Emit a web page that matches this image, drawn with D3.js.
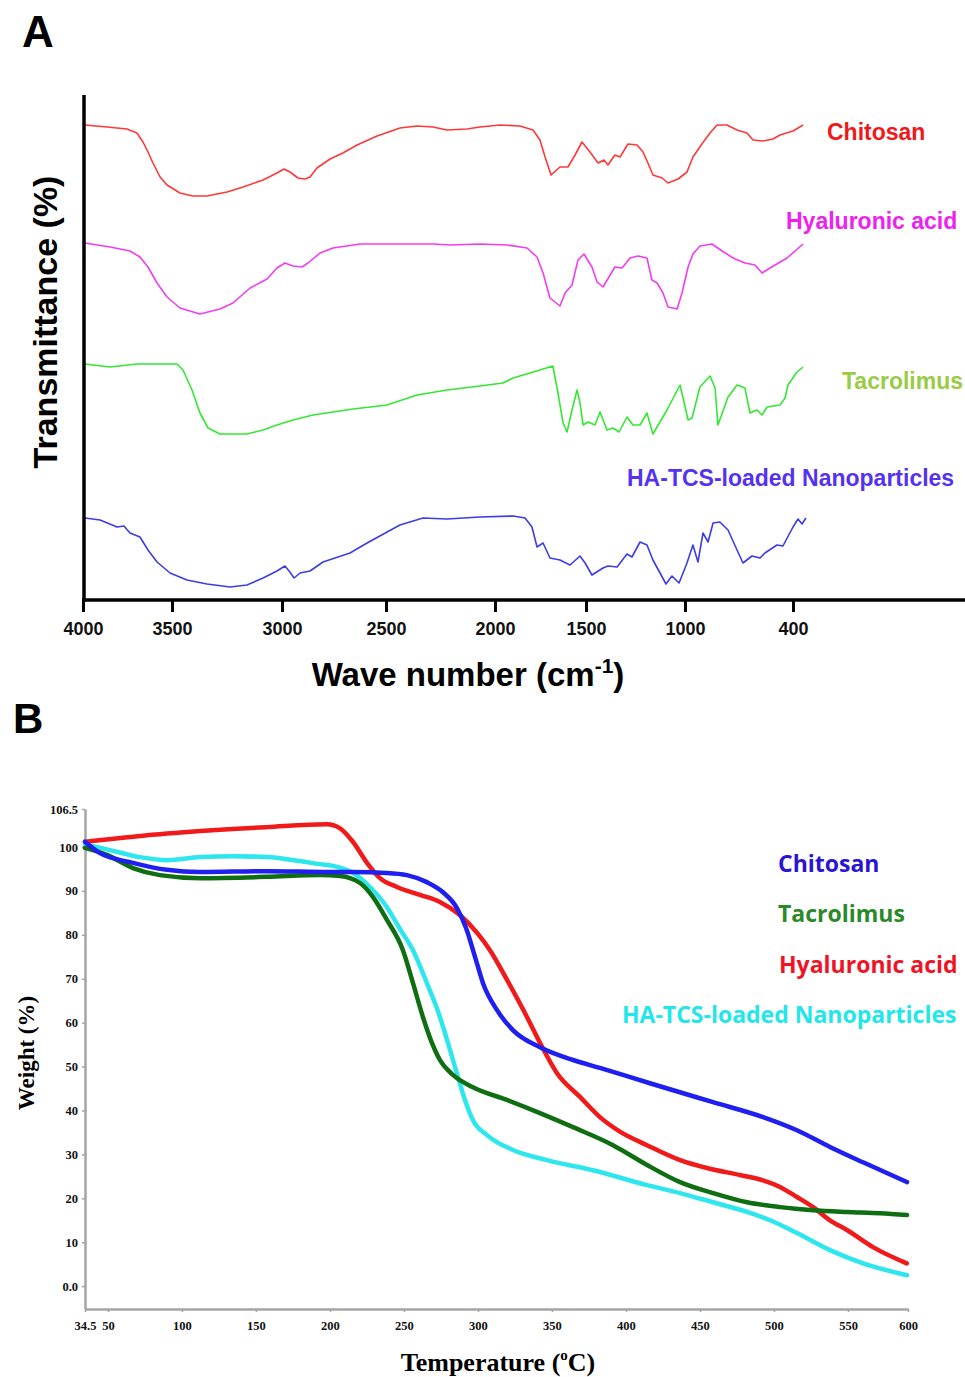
<!DOCTYPE html>
<html lang="en">
<head>
<meta charset="utf-8">
<script src="https://d3js.org/d3.v7.min.js"></script>
<style>
  body { margin: 0; background: #fff; }
  svg { display: block; }
  .sans { font-family: "Liberation Sans", Arial, sans-serif; font-weight: bold; }
  .serif { font-family: "Liberation Serif", "Times New Roman", serif; font-weight: bold; }
  .legend { font-family: "Open Sans", "Noto Sans", sans-serif; font-weight: bold; }
</style>
</head>
<body>
<script>
// ---------- Panel A: FTIR spectra (wave number cm-1, transmittance a.u.) ----------
const waveTicks = [4000, 3500, 3000, 2500, 2000, 1500, 1000, 400];
const ftirNames = ["Chitosan", "Hyaluronic acid", "Tacrolimus", "HA-TCS-loaded Nanoparticles"];

const ftirChitosan = [[3990,95.0],[3865,94.6],[3753,94.2],[3697,93.4],[3663,91.6],[3635,89.6],[3607,87.4],[3567,84.6],[3528,83.0],[3464,81.4],[3405,80.8],[3341,80.8],[3250,81.6],[3177,82.6],[3086,84.0],[3023,85.4],[2990,86.2],[2962,85.6],[2923,84.4],[2889,84.2],[2865,84.6],[2832,86.4],[2769,88.2],[2707,89.4],[2639,91.0],[2543,92.8],[2436,94.4],[2358,94.8],[2284,94.6],[2220,94.0],[2129,94.2],[2069,94.6],[1973,95.0],[1863,94.8],[1791,94.0],[1753,92.0],[1725,88.6],[1692,85.0],[1643,86.6],[1599,86.6],[1560,89.0],[1522,91.6],[1480,89.6],[1439,87.4],[1409,88.0],[1389,87.0],[1354,89.0],[1328,88.6],[1288,91.2],[1242,91.0],[1212,89.6],[1187,87.4],[1162,85.0],[1116,84.4],[1086,83.4],[1035,84.2],[989,85.6],[956,88.6],[906,91.2],[861,93.4],[822,95.0],[767,95.0],[711,94.0],[656,93.4],[622,92.0],[567,91.8],[511,92.2],[472,93.0],[400,93.8],[344,95.0]];

const ftirHyaluronic = [[3990,71.4],[3848,70.6],[3736,69.8],[3680,68.6],[3635,66.6],[3584,63.4],[3528,60.6],[3464,58.4],[3373,57.2],[3282,58.2],[3223,59.4],[3145,62.4],[3068,64.2],[3023,66.4],[2986,67.4],[2947,66.8],[2904,66.6],[2875,67.4],[2817,69.4],[2755,70.4],[2625,71.2],[2436,71.2],[2284,71.2],[2206,71.0],[2069,71.2],[1934,71.0],[1824,70.4],[1769,68.6],[1736,65.4],[1698,60.4],[1643,58.8],[1615,61.4],[1577,63.0],[1544,68.0],[1511,69.2],[1470,66.6],[1444,63.6],[1414,62.6],[1369,65.6],[1354,66.6],[1318,66.4],[1278,68.4],[1237,68.8],[1192,68.4],[1167,64.0],[1141,63.4],[1111,61.4],[1086,58.6],[1040,58.2],[1015,61.4],[983,66.6],[956,69.2],[917,70.8],[850,71.2],[794,69.8],[733,68.4],[667,67.4],[611,67.0],[572,65.4],[528,66.4],[433,68.4],[344,71.2]];

const ftirTacrolimus = [[3990,47.2],[3848,46.6],[3697,47.2],[3477,47.2],[3450,46.0],[3409,42.0],[3373,37.4],[3336,34.4],[3282,33.2],[3159,33.2],[3086,34.0],[3023,35.0],[2947,36.0],[2851,37.0],[2755,37.6],[2658,38.2],[2495,39.0],[2358,41.0],[2220,42.0],[2069,42.8],[1956,43.4],[1901,44.4],[1808,45.4],[1682,46.8],[1654,41.4],[1626,35.4],[1604,33.6],[1577,38.0],[1549,42.0],[1533,39.4],[1516,35.0],[1490,35.6],[1455,35.0],[1429,37.6],[1394,34.0],[1364,34.4],[1333,33.6],[1293,36.6],[1263,35.0],[1227,35.0],[1192,37.4],[1162,33.2],[1091,38.0],[1025,43.0],[983,36.0],[961,36.4],[917,42.6],[861,44.8],[833,42.4],[817,35.0],[761,40.6],[711,43.0],[667,42.4],[639,37.4],[600,38.0],[572,37.0],[544,38.6],[472,39.0],[444,40.4],[428,43.0],[378,45.6],[344,46.6]];

const ftirNanoparticles = [[3989,16.4],[3904,16.0],[3809,14.6],[3770,14.8],[3736,13.4],[3680,12.6],[3635,10.0],[3584,7.6],[3511,5.4],[3432,4.0],[3341,3.2],[3236,2.6],[3159,3.0],[3086,4.4],[3023,5.8],[2986,6.8],[2962,5.6],[2942,4.4],[2913,5.4],[2865,5.8],[2803,7.6],[2673,9.4],[2591,11.4],[2495,13.6],[2436,15.0],[2330,16.4],[2220,16.2],[2069,16.6],[1901,16.8],[1835,16.4],[1797,14.6],[1769,10.6],[1736,11.4],[1698,8.4],[1643,8.0],[1588,7.0],[1533,8.8],[1505,7.4],[1470,5.0],[1414,6.4],[1389,6.8],[1343,6.6],[1293,9.2],[1268,8.6],[1227,11.6],[1192,11.0],[1162,8.0],[1126,5.4],[1096,3.2],[1066,4.8],[1030,3.4],[989,7.4],[956,11.0],[928,7.6],[900,13.4],[872,11.6],[844,15.4],[806,15.6],[761,14.0],[711,10.0],[678,7.4],[628,8.8],[583,8.4],[556,9.4],[489,11.0],[456,10.8],[400,14.6],[372,16.2],[350,15.2],[328,16.4]];

// ---------- Panel B: TGA curves (temperature °C, weight %) ----------
const tempTicks = [34.5, 50, 100, 150, 200, 250, 300, 350, 400, 450, 500, 550, 600];
const weightTicks = [0, 10, 20, 30, 40, 50, 60, 70, 80, 90, 100, 106.5];
const tgaNames = ["Chitosan", "Tacrolimus", "Hyaluronic acid", "HA-TCS-loaded Nanoparticles"];

const tgaChitosan = [[34.5,100.9],[44.6,98.6],[66.9,96.4],[89.9,94.8],[112.2,94.3],[157.4,94.5],[200,94.3],[215.5,94.3],[238.5,94.1],[252,93.6],[265.5,92.0],[276.4,89.7],[285.8,86.1],[292,81.5],[298,75.0],[303.4,69.0],[312.8,62.9],[323.6,58.3],[341.9,54.4],[364.2,51.5],[382.4,49.7],[416.2,46.2],[458.8,41.9],[492.6,38.5],[515.5,35.5],[537.8,31.7],[562.5,28.2],[599.2,23.7]];

const tgaTacrolimus = [[34.5,99.8],[49.3,98.2],[66.9,95.2],[85.1,93.6],[112.2,92.9],[157.4,93.2],[193.2,93.6],[206.8,93.4],[220.3,91.8],[229.1,88.6],[238.5,83.4],[249.3,76.5],[256.1,69.0],[262.8,61.3],[268.9,55.4],[274.3,51.5],[283.1,48.1],[296.6,45.3],[319.6,42.4],[341.9,39.4],[364.2,36.2],[391.2,32.1],[414.2,27.6],[436.5,23.7],[458.8,21.2],[481.8,19.1],[504.1,18.0],[526.4,17.3],[549.3,16.9],[576.7,16.6],[599.2,16.2]];

const tgaHyaluronic = [[35,100.9],[89.9,102.3],[157.4,103.4],[198,103.9],[206.8,103.2],[215.5,100.9],[225,96.4],[233.8,92.9],[245.3,90.9],[260.8,89.1],[274.3,87.5],[287.8,84.5],[300,80.2],[308.1,76.5],[320,69.5],[333.1,61.3],[341.9,55.4],[353.4,48.5],[368.9,43.1],[382.4,38.5],[395.9,35.2],[414.2,32.1],[436.5,28.7],[454.7,26.9],[477,25.3],[492.6,24.1],[504,22.6],[515.5,20.3],[526.4,18.0],[537.8,15.0],[549.3,12.8],[570.8,8.9],[599,5.2]];

const tgaNanoparticles = [[34.5,100.5],[51.4,99.3],[71.6,97.7],[89.9,97.0],[112.2,97.7],[134.5,97.9],[157.4,97.7],[179.7,96.8],[193.2,96.1],[202,95.7],[215.5,94.1],[227,90.9],[238.5,86.3],[247,81.5],[256.1,76.5],[265.5,69.0],[274.3,61.3],[281.1,53.8],[286.5,47.6],[291.2,42.4],[296.6,37.8],[306.1,34.4],[323.6,31.0],[346.6,28.7],[377.7,26.4],[414.2,23.0],[436.5,21.2],[458.8,19.1],[481.8,16.9],[497.3,15.0],[515.5,12.1],[537.8,8.2],[562.5,5.2],[599.2,2.5]];

// ---------- layout ----------
const W = 965, H = 1377;
const svg = d3.select("body").append("svg").attr("width", W).attr("height", H);

// Panel A scales (the original axis is not evenly spaced, so the scale is piecewise)
const xA = d3.scaleLinear().domain(waveTicks).range([83, 172, 282, 386, 495, 586, 685, 793]);
const yA = d3.scaleLinear().domain([0, 100]).range([600, 100]);

const gA = svg.append("g");
gA.append("text").attr("class", "sans").attr("x", 22).attr("y", 47).attr("font-size", 44).text("A");

const ftirData = [ftirChitosan, ftirHyaluronic, ftirTacrolimus, ftirNanoparticles];
const ftirColors = ["#ff3838", "#f23cf2", "#33e833", "#3c3ce8"];
const ftirLabelColors = ["#f01818", "#ee22ee", "#99cc44", "#5533ee"];
const ftirLabelPos = [[827, 140], [786, 229], [842, 389], [627, 486]];

const lineA = d3.line().x(d => xA(d[0])).y(d => yA(d[1]));
ftirData.forEach((s, i) => {
  gA.append("path").datum(s).attr("d", lineA)
    .attr("fill", "none").attr("stroke", ftirColors[i]).attr("stroke-width", 1.6)
    .attr("stroke-linejoin", "round");
  gA.append("text").attr("class", "sans").attr("font-size", 23)
    .attr("x", ftirLabelPos[i][0]).attr("y", ftirLabelPos[i][1])
    .attr("fill", ftirLabelColors[i]).text(ftirNames[i]);
});

// axes A
const axA = gA.append("g").attr("transform", "translate(0,600)")
  .call(d3.axisBottom(xA).tickValues(waveTicks).tickSize(12).tickSizeOuter(0)
    .tickFormat(d3.format("d")));
axA.select(".domain").remove();
axA.selectAll(".tick line").attr("stroke", "#000").attr("stroke-width", 3);
axA.selectAll(".tick text").attr("class", "sans").attr("font-size", 18)
  .attr("fill", "#111").attr("y", 22);
gA.append("line").attr("x1", 82).attr("x2", W).attr("y1", 600).attr("y2", 600)
  .attr("stroke", "#000").attr("stroke-width", 3.5);
gA.append("line").attr("x1", 84).attr("x2", 84).attr("y1", 95).attr("y2", 602)
  .attr("stroke", "#000").attr("stroke-width", 3.5);

gA.append("text").attr("class", "sans").attr("font-size", 34)
  .attr("transform", "translate(57,322) rotate(-90)").attr("text-anchor", "middle")
  .text("Transmittance (%)");
const tA = gA.append("text").attr("class", "sans").attr("font-size", 33)
  .attr("x", 468).attr("y", 686).attr("text-anchor", "middle");
tA.append("tspan").text("Wave number (cm");
tA.append("tspan").attr("font-size", 21).attr("dy", -13).text("-1");
tA.append("tspan").attr("dy", 13).text(")");

// Panel B scales (top tick 106.5 and last interval are squeezed in the original)
const xB = d3.scaleLinear().domain([34.5, 550, 600]).range([85, 848, 908]);
const yB = d3.scaleLinear().domain([-5.2, 100, 106.5]).range([1309, 847, 809]);

const gB = svg.append("g");
gB.append("text").attr("class", "sans").attr("x", 13).attr("y", 733).attr("font-size", 42).text("B");

const axBy = gB.append("g").attr("transform", "translate(85,0)")
  .call(d3.axisLeft(yB).tickValues(weightTicks).tickSize(3).tickSizeOuter(0)
    .tickFormat(d => d === 0 ? "0.0" : String(d)));
const axBx = gB.append("g").attr("transform", "translate(0,1309)")
  .call(d3.axisBottom(xB).tickValues(tempTicks).tickSize(3).tickSizeOuter(0)
    .tickFormat(d => String(d)));
[axBy, axBx].forEach(a => {
  a.select(".domain").attr("stroke", "#a5a5a5").attr("stroke-width", 2.5);
  a.selectAll(".tick line").attr("stroke", "#a5a5a5").attr("stroke-width", 1.5);
  a.selectAll(".tick text").attr("class", "serif").attr("font-size", 12.5).attr("fill", "#111");
});
axBy.selectAll(".tick text").attr("x", -7);
axBx.selectAll(".tick text").attr("y", 12);

const tgaData = [tgaHyaluronic, tgaNanoparticles, tgaTacrolimus, tgaChitosan];
const tgaColors = ["#f01a1a", "#2ee6ee", "#0f6e12", "#1f1ff0"];
const lineB = d3.line().curve(d3.curveMonotoneX).x(d => xB(d[0])).y(d => yB(d[1]));
tgaData.forEach((s, i) => {
  gB.append("path").datum(s).attr("d", lineB)
    .attr("fill", "none").attr("stroke", tgaColors[i]).attr("stroke-width", 4.5)
    .attr("stroke-linecap", "round");
});

const tgaLabelColors = ["#2a14d4", "#2a8a2a", "#ee1426", "#22e6ea"];
const tgaLabelPos = [[778, 872], [778, 922], [779, 973], [622, 1023]];
tgaNames.forEach((n, i) => {
  gB.append("text").attr("class", "legend").attr("font-size", 23)
    .attr("x", tgaLabelPos[i][0]).attr("y", tgaLabelPos[i][1])
    .attr("fill", tgaLabelColors[i]).text(n);
});

gB.append("text").attr("class", "serif").attr("font-size", 23)
  .attr("transform", "translate(34,1053) rotate(-90)").attr("text-anchor", "middle")
  .text("Weight (%)");
const tB = gB.append("text").attr("class", "serif").attr("font-size", 26)
  .attr("x", 498).attr("y", 1371).attr("text-anchor", "middle");
tB.append("tspan").text("Temperature (");
tB.append("tspan").attr("font-size", 15).attr("dy", -11).text("o");
tB.append("tspan").attr("dy", 11).text("C)");
</script>
</body>
</html>
